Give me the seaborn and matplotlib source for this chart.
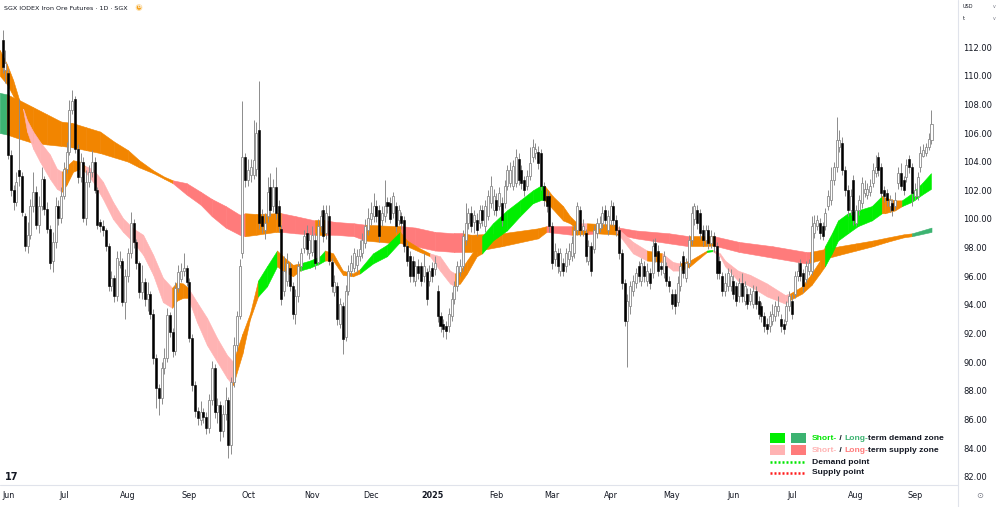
import numpy as np
import pandas as pd
import matplotlib
matplotlib.use("Agg")
import matplotlib.pyplot as plt
import seaborn as sns
from matplotlib.lines import Line2D
from matplotlib.patches import Rectangle

# %% daily candles
dates = pd.bdate_range("2024-05-30", "2025-09-09")

opens = [
    112.5, 110.4,
    110.2, 104.5, 102.0, 101.2, 103.4, 103.0, 100.2, 98.1, 98.9, 100.9, 101.9, 99.6, 100.9, 102.8, 100.7, 99.3, 97.1, 98.4, 100.9, 100.1,
    101.6, 103.5, 104.7, 107.6, 108.4, 104.9, 102.9, 104.0, 100.1, 102.6, 103.3, 104.0, 102.0, 99.8, 99.5, 99.2, 98.1, 95.3, 95.9, 94.6, 96.8, 97.1, 94.2,
    96.0, 97.6, 99.7, 98.4, 96.9, 94.9, 95.6, 94.4, 94.8, 93.4, 90.3, 88.2, 87.5, 89.6, 90.3, 93.3, 92.1, 90.8, 95.2, 95.8, 96.4, 96.6,
    95.6, 91.7, 88.4, 86.6, 86.0, 86.5, 86.2, 85.4, 87.4, 89.6, 86.5, 87.0, 85.2, 86.4, 87.4, 84.2, 88.6, 91.2, 93.2, 97.6, 104.3,
    102.7, 103.1, 103.1, 103.5, 106.2, 100.2, 99.2, 100.2, 102.2, 100.9, 102.2, 100.9, 99.3, 95.0, 95.7, 96.6, 95.3, 93.4, 94.6, 96.7, 98.0, 99.0, 97.6,
    97.7, 98.5, 97.0, 99.5, 100.6, 99.0, 100.2, 97.0, 94.9, 95.3, 92.7, 93.9, 91.8, 95.0, 96.4, 96.6, 96.8, 97.4, 97.6, 98.3, 99.2,
    100.0, 100.2, 100.9, 100.6, 99.9, 100.2, 101.2, 101.1, 100.4, 100.9, 99.9, 100.2, 99.9, 98.1, 97.4, 97.1, 95.7, 96.7, 96.7, 96.0, 96.3, 95.7,
    96.6, 96.5, 95.0, 93.2, 92.7, 92.5, 92.5, 93.2, 94.4, 95.3, 96.3, 96.7, 98.5, 99.7, 100.4, 99.8, 99.9, 99.7, 100.6, 99.5, 100.2, 101.1, 100.6,
    101.3, 100.9, 101.1, 101.1, 102.3, 102.5, 102.3, 102.5, 104.2, 103.4, 102.7, 102.3, 103.0, 104.3, 104.6, 104.7, 104.6, 102.3, 101.6, 101.6,
    99.5, 97.2, 97.6, 96.4, 96.9, 96.7, 97.2, 97.4, 97.6, 99.2, 100.6, 99.2, 99.0, 97.1, 98.1, 97.9, 99.0, 99.4, 99.7, 100.6, 99.2,
    99.9, 100.9, 99.9, 99.2, 97.6, 95.5, 92.9, 93.9, 95.0, 95.5, 96.7, 95.7, 96.7, 95.7, 96.2, 96.2, 98.3, 97.8, 96.7, 96.2, 96.7, 95.7,
    94.8, 94.8, 94.2, 95.3, 97.4, 95.9, 96.9, 98.5, 100.0, 100.6, 100.4, 99.2, 98.5, 99.2, 98.3, 98.8, 98.1, 97.1, 96.0, 95.0, 95.3, 95.3,
    95.7, 95.3, 94.6, 95.5, 94.3, 94.8, 94.3, 94.1, 95.0, 94.3, 93.9, 93.2, 92.7, 92.5, 92.9, 93.2, 93.6, 93.0, 92.7, 92.9, 93.9,
    94.3, 94.8, 96.0, 96.9, 96.2, 95.8, 96.4, 96.4, 99.0, 99.5, 99.7, 99.5, 99.5, 100.9, 101.3, 102.7, 103.6, 105.0, 105.3, 103.4, 102.0, 100.6, 102.7,
    99.7, 100.6, 101.1, 101.8, 101.7, 101.9, 102.5, 103.2, 104.3, 103.6, 102.0, 101.8, 100.9, 101.1, 100.9, 102.5, 103.2, 102.7, 102.9, 104.2, 103.6,
    101.6, 101.6, 103.6, 104.4, 104.6, 105.0, 105.5,
]
highs = [
    113.2, 111.8,
    110.5, 104.8, 102.4, 103.3, 108.4, 103.3, 100.4, 99.8, 101.4, 103.3, 102.3, 101.6, 103.6, 103.0, 101.2, 99.6, 99.1, 101.5, 101.3, 102.2,
    104.0, 105.4, 108.3, 109.0, 108.6, 105.2, 104.6, 104.3, 103.4, 103.8, 104.8, 104.3, 102.2, 100.0, 99.9, 99.4, 98.3, 96.4, 96.1, 97.8, 97.8, 97.3, 96.5,
    98.0, 100.5, 100.0, 98.6, 97.1, 96.8, 95.9, 95.6, 95.0, 93.7, 90.6, 88.5, 90.0, 91.0, 93.8, 93.5, 92.4, 95.6, 96.8, 96.9, 97.6, 96.8,
    95.9, 92.0, 88.7, 86.9, 87.3, 86.8, 86.5, 87.8, 90.1, 89.9, 87.5, 87.3, 87.0, 88.3, 87.6, 89.0, 91.8, 93.6, 97.2, 108.2, 104.6,
    104.2, 104.2, 106.9, 106.8, 109.6, 100.7, 100.4, 102.9, 103.2, 102.8, 103.6, 101.3, 99.6, 97.4, 97.6, 97.0, 95.6, 95.1, 97.1, 98.0, 99.2, 99.6, 99.0,
    99.5, 99.0, 100.0, 100.6, 101.0, 101.0, 101.0, 97.3, 96.1, 95.6, 94.5, 94.2, 95.4, 96.8, 97.5, 98.0, 97.9, 98.5, 99.0, 100.0, 100.8,
    101.2, 101.8, 101.3, 101.0, 100.9, 102.7, 101.5, 101.5, 101.9, 101.2, 101.0, 100.5, 100.2, 98.4, 97.8, 97.4, 97.1, 97.2, 97.0, 97.6, 96.6, 96.8,
    97.0, 97.4, 95.4, 93.5, 93.0, 92.9, 93.8, 94.9, 95.7, 97.1, 97.2, 99.2, 101.1, 100.8, 100.9, 100.6, 100.4, 101.0, 101.0, 101.3, 102.0, 103.0, 102.1,
    101.8, 102.2, 101.5, 102.7, 103.8, 104.0, 104.1, 104.9, 104.6, 103.8, 103.0, 103.4, 105.0, 105.6, 105.3, 105.1, 104.9, 102.6, 102.0, 101.9,
    99.8, 98.3, 98.0, 98.0, 97.3, 98.0, 98.3, 98.8, 99.6, 101.2, 100.9, 100.0, 99.3, 98.5, 98.4, 99.6, 100.1, 100.2, 100.9, 101.0, 100.6,
    101.3, 101.2, 100.3, 99.5, 97.9, 95.8, 94.8, 95.7, 96.1, 96.6, 97.1, 97.3, 97.1, 96.9, 96.6, 98.6, 98.7, 98.2, 97.1, 97.8, 97.0, 96.0,
    95.1, 95.1, 96.0, 97.1, 97.8, 97.3, 98.9, 100.9, 101.1, 101.0, 100.7, 99.6, 99.6, 99.6, 99.2, 99.1, 98.4, 97.4, 96.3, 96.2, 96.6, 96.5,
    96.1, 95.6, 95.9, 96.2, 95.7, 95.2, 95.2, 95.4, 95.3, 94.6, 94.2, 93.5, 93.1, 93.6, 94.1, 94.3, 94.6, 93.4, 93.0, 94.3, 95.0,
    94.8, 96.4, 97.0, 97.2, 96.5, 97.1, 97.2, 100.2, 100.3, 100.3, 100.1, 99.8, 100.8, 102.0, 103.6, 104.0, 107.1, 106.2, 105.7, 103.7, 102.4, 102.1, 103.1,
    101.0, 101.7, 102.9, 102.7, 102.5, 102.8, 103.9, 104.5, 104.7, 103.9, 102.3, 102.1, 101.7, 101.4, 101.9, 103.6, 103.9, 103.0, 104.2, 104.5, 103.9,
    102.5, 103.3, 105.1, 105.2, 105.3, 106.0, 107.6,
]
lows = [
    110.2, 109.5,
    104.2, 101.6, 100.6, 100.9, 102.3, 100.2, 97.8, 97.6, 98.6, 100.5, 99.3, 99.0, 100.6, 100.3, 99.0, 96.5, 96.3, 98.0, 99.6, 99.7,
    101.4, 103.2, 104.5, 107.3, 104.6, 102.5, 102.6, 99.8, 99.6, 102.2, 102.9, 101.8, 99.3, 99.1, 98.8, 97.8, 95.0, 95.0, 94.2, 94.3, 96.6, 93.9, 93.0,
    95.6, 97.3, 98.0, 96.5, 94.5, 94.4, 93.9, 93.6, 93.0, 89.9, 86.8, 86.3, 87.1, 89.2, 90.0, 91.8, 90.4, 90.5, 94.9, 95.6, 96.0, 95.3,
    91.4, 88.0, 86.2, 85.6, 85.6, 85.8, 85.0, 85.1, 87.0, 86.1, 85.8, 84.5, 84.8, 86.0, 83.3, 83.6, 88.3, 90.8, 93.0, 97.3, 102.2,
    102.3, 102.6, 102.8, 103.0, 99.3, 99.0, 98.6, 99.8, 100.2, 100.5, 100.0, 99.1, 94.0, 94.6, 95.3, 95.0, 93.0, 92.7, 94.2, 96.4, 97.6, 97.5, 97.2,
    97.4, 96.5, 96.8, 99.1, 98.4, 98.6, 96.8, 94.9, 94.6, 92.6, 92.4, 90.6, 91.5, 94.7, 96.0, 96.3, 96.3, 97.1, 97.3, 98.0, 98.9,
    99.6, 99.8, 99.8, 98.4, 99.5, 99.8, 100.4, 99.7, 100.1, 99.1, 99.6, 99.3, 97.7, 96.7, 95.6, 95.6, 95.3, 95.8, 95.3, 95.6, 94.0, 95.3,
    95.6, 96.1, 92.8, 92.1, 91.8, 91.6, 92.1, 92.9, 94.1, 95.0, 96.0, 96.4, 98.2, 99.3, 99.1, 99.0, 98.8, 99.4, 99.5, 99.1, 99.9, 100.8, 100.3,
    100.2, 100.6, 99.5, 100.8, 102.0, 102.2, 102.0, 102.2, 102.4, 102.1, 101.6, 102.0, 102.7, 104.0, 104.2, 103.5, 102.0, 100.9, 100.5, 99.1,
    96.5, 96.7, 96.2, 96.0, 96.0, 96.3, 96.8, 97.1, 97.3, 98.9, 98.8, 98.8, 97.0, 96.8, 96.0, 97.6, 98.7, 99.1, 99.4, 99.5, 98.9,
    99.6, 99.5, 98.8, 97.2, 95.1, 92.5, 89.7, 93.4, 94.6, 95.2, 95.6, 95.3, 95.6, 95.3, 95.1, 95.9, 97.0, 96.0, 96.1, 95.9, 95.3, 94.9,
    93.7, 93.4, 93.9, 95.0, 95.9, 95.6, 96.6, 98.2, 99.6, 99.3, 98.6, 98.1, 98.2, 97.9, 98.0, 97.7, 95.8, 95.8, 94.6, 94.6, 95.0, 95.0,
    94.4, 93.9, 94.2, 94.2, 94.0, 93.7, 94.0, 93.8, 93.7, 93.0, 92.8, 92.1, 92.0, 92.1, 92.6, 92.9, 93.2, 92.1, 92.0, 92.6, 93.6,
    93.0, 94.5, 95.7, 95.7, 94.9, 95.5, 96.1, 96.1, 98.7, 99.2, 98.6, 98.5, 99.2, 100.6, 101.0, 102.4, 103.3, 104.7, 103.1, 101.6, 100.2, 100.3, 99.6,
    99.5, 100.3, 100.8, 101.5, 101.4, 101.6, 102.2, 102.9, 103.0, 101.5, 101.2, 100.9, 100.5, 100.2, 100.6, 102.1, 102.0, 101.7, 102.6, 103.2, 100.9,
    101.3, 101.3, 103.3, 104.3, 104.4, 104.8, 105.2,
]
closes = [
    110.6, 110.9,
    104.5, 102.0, 101.2, 102.6, 103.0, 100.5, 98.1, 98.9, 100.9, 101.9, 99.6, 100.9, 102.8, 100.7, 99.3, 96.9, 98.4, 100.9, 100.1, 101.6,
    103.5, 104.7, 107.6, 108.2, 104.9, 102.9, 104.0, 100.1, 102.6, 103.3, 104.0, 102.0, 99.6, 99.5, 99.2, 98.1, 95.3, 95.9, 94.6, 97.3, 97.1, 94.2, 96.0,
    97.6, 99.7, 98.4, 96.9, 94.9, 95.6, 94.4, 94.8, 93.4, 90.3, 88.2, 87.5, 89.6, 90.3, 93.3, 92.1, 90.8, 95.2, 96.3, 96.4, 96.6, 95.6,
    91.7, 88.4, 86.6, 86.1, 86.5, 86.2, 85.4, 87.4, 89.6, 86.5, 87.0, 85.2, 86.4, 87.4, 84.2, 88.6, 91.2, 93.2, 96.7, 104.3, 102.7,
    103.4, 103.6, 104.1, 106.0, 99.7, 99.5, 99.7, 101.9, 100.6, 102.2, 100.4, 99.5, 94.4, 96.4, 96.9, 95.3, 93.4, 94.6, 96.7, 97.6, 98.8, 97.9, 98.5,
    98.9, 96.9, 99.5, 100.2, 98.8, 100.4, 97.1, 95.3, 95.6, 93.0, 94.1, 91.6, 95.0, 96.4, 96.9, 97.6, 97.4, 97.9, 98.5, 99.5, 100.1,
    100.4, 100.9, 100.2, 98.8, 100.4, 100.9, 100.9, 100.0, 101.6, 99.5, 100.6, 99.7, 98.1, 97.1, 96.0, 96.0, 96.7, 96.2, 95.7, 96.7, 94.4, 96.4,
    96.0, 96.9, 93.2, 92.5, 92.3, 92.2, 93.4, 94.4, 95.3, 96.7, 96.7, 98.8, 99.7, 100.4, 99.5, 100.3, 99.2, 100.6, 99.9, 100.9, 101.6, 102.3, 101.6,
    100.6, 101.8, 99.9, 102.3, 103.4, 103.4, 103.7, 104.3, 102.7, 102.5, 102.0, 103.0, 103.9, 105.0, 104.9, 103.9, 102.3, 101.3, 100.9, 99.5,
    96.9, 97.8, 96.7, 97.6, 96.4, 97.6, 97.8, 98.3, 99.2, 100.9, 99.2, 99.5, 97.4, 98.1, 96.4, 99.2, 99.7, 99.7, 100.4, 99.9, 100.2,
    100.9, 99.9, 99.2, 97.6, 95.5, 92.9, 94.3, 95.3, 95.7, 96.2, 96.0, 96.9, 96.0, 96.4, 95.5, 98.1, 97.4, 96.4, 96.5, 97.4, 95.7, 95.3,
    94.1, 93.9, 95.5, 96.7, 96.2, 96.9, 98.5, 100.4, 100.9, 99.7, 99.0, 98.5, 99.2, 98.3, 98.8, 98.1, 96.2, 96.2, 95.0, 95.5, 96.2, 96.0,
    94.8, 94.3, 95.5, 94.6, 95.3, 94.1, 94.8, 95.0, 94.1, 93.4, 93.2, 92.5, 92.3, 93.2, 93.4, 93.9, 93.9, 92.5, 92.3, 93.9, 94.6,
    93.4, 96.0, 96.4, 96.0, 95.3, 96.7, 96.9, 99.5, 99.7, 99.9, 99.0, 98.8, 100.4, 101.6, 102.7, 103.6, 105.5, 105.5, 103.4, 102.0, 100.6, 101.6, 99.9,
    100.6, 101.3, 102.5, 102.1, 102.1, 102.3, 103.4, 103.6, 103.4, 101.8, 101.6, 101.3, 101.3, 100.6, 101.3, 103.2, 102.3, 102.0, 103.8, 103.6, 101.8,
    102.0, 102.9, 104.6, 104.8, 105.0, 105.6, 106.6,
]

month_labels = ["Jun", "Jul", "Aug", "Sep", "Oct", "Nov", "Dec", "2025",
                "Feb", "Mar", "Apr", "May", "Jun", "Jul", "Aug", "Sep"]
price_ticks = [82, 84, 86, 88, 90, 92, 94, 96, 98, 100, 102, 104, 106, 108, 110, 112]

# long-term zone edges (bar number, upper, lower, zone of the stretch that follows)
lt_bar = [-1, 1.5, 6, 11, 16, 21, 25, 30, 35, 40, 45, 49, 54, 58, 61, 66, 71, 75, 80, 85,
          87, 91, 98, 100, 105, 112, 116, 119, 126, 130, 141, 143, 148, 155, 162, 165, 168, 179, 192, 195,
          204, 210, 213, 221, 227, 239, 246, 251, 255, 264, 276, 288, 289.5, 300, 306, 312, 317, 323, 326, 333]
lt_top = [108.8, 108.7, 108.3, 107.8, 107.3, 106.8, 106.7, 106.4, 106.1, 105.4, 104.8, 104.1, 103.4, 102.95, 102.7, 102.5, 101.9, 101.4, 100.9, 100.3,
          100.4, 100.35, 100.4, 100.4, 100.2, 99.9, 99.9, 99.8, 99.7, 99.6, 99.5, 99.5, 99.4, 99.1, 99.0, 99.0, 98.9, 99.0, 99.35, 99.5,
          99.5, 99.5, 99.5, 99.4, 99.2, 99.0, 98.8, 98.8, 98.8, 98.4, 98.1, 97.7, 97.7, 98.1, 98.3, 98.5, 98.7, 98.93, 99.0, 99.4]
lt_bot = [106.0, 105.9, 105.6, 105.3, 105.2, 105.1, 105.0, 104.8, 104.6, 104.3, 104.0, 103.6, 103.2, 102.8, 102.5, 101.7, 101.0, 100.2, 99.4, 98.9,
          98.8, 98.9, 99.1, 99.1, 99.0, 98.9, 98.9, 98.9, 98.8, 98.5, 98.3, 98.3, 98.1, 97.8, 97.7, 97.7, 97.7, 98.1, 98.65, 99.1,
          98.9, 98.95, 99.0, 98.9, 98.65, 98.3, 98.1, 98.1, 98.15, 97.7, 97.3, 96.9, 96.95, 97.5, 97.8, 98.1, 98.4, 98.72, 98.8, 99.1]
lt_zone = list("g" + "o" * 13 + "r" * 6 + "ooo" + "rr" + "o" + "rrr" + "oo" + "rrrr" + "oooo"
               + "r" + "o" + "r" + "o" + "rrr" + "oo" + "rrrr" + "o" * 6 + "gg")

# short-term zone edges
st_bar = [-1, 1.6, 3.8, 6.0, 7.4, 8.8, 11.0, 13.4, 17.0, 19.5, 21.3, 23.0, 25.3, 27.8, 29.6, 32.4, 36.0, 39.6, 43.2, 46.8,
          50.4, 54.0, 57.5, 60.8, 62.5, 64.7, 66.5, 69.7, 73.3, 76.9, 80.5, 82.6, 86.0, 88.7, 91.6, 94.8, 98.4, 100.5, 104.1, 106.6,
          110.2, 113.8, 115.6, 118.5, 122.0, 125.6, 128.1, 132.8, 137.8, 142.5, 145.0, 149.6, 153.2, 156.8, 160.4, 162.2, 164.0, 166.5, 170.0, 171.9,
          175.8, 180.8, 185.5, 190.1, 192.7, 194.4, 197.2, 200.9, 203.4, 206.0, 209.5, 220.0, 221.3, 226.0, 231.0, 236.5, 240.3, 242.8, 246.4, 252.5,
          254.6, 257.2, 259.0, 263.6, 268.0, 274.0, 280.5, 282.3, 286.6, 290.0, 293.0, 294.8, 297.3, 299.5, 303.0, 306.6, 311.6, 315.2, 316.3, 319.9,
          322.4, 326.0, 329.6, 332.8]
st_top = [111.8, 110.8, 109.7, 108.3, 107.7, 106.9, 106.1, 105.4, 104.5, 103.5, 103.3, 103.7, 104.1, 104.0, 103.7, 103.5, 102.6, 101.2, 100.05, 99.35,
          98.9, 97.5, 95.9, 95.2, 95.6, 95.5, 95.2, 94.2, 93.1, 91.7, 90.5, 90.05, 92.0, 93.4, 95.7, 96.7, 97.8, 97.4, 96.8, 96.9,
          97.1, 97.4, 97.8, 97.6, 96.4, 96.2, 96.5, 97.6, 98.2, 99.1, 98.5, 97.95, 97.6, 97.4, 96.4, 96.2, 96.4, 97.1, 98.1, 98.8,
          99.7, 100.6, 101.3, 102.0, 102.3, 102.3, 101.6, 100.9, 100.2, 99.7, 99.7, 99.6, 99.2, 98.4, 97.8, 97.6, 97.0, 96.9, 97.1, 97.8,
          97.85, 97.6, 97.1, 96.4, 96.1, 95.5, 94.7, 94.8, 95.3, 96.2, 97.1, 98.1, 99.0, 99.9, 100.4, 100.6, 100.9, 101.6, 101.5, 101.3,
          101.3, 101.8, 102.5, 103.2]
st_bot = [110.0, 109.4, 108.6, 108.0, 107.6, 106.1, 104.9, 104.0, 102.8, 102.1, 101.9, 102.4, 103.3, 103.5, 103.3, 102.6, 101.4, 100.0, 99.1, 98.4,
          97.5, 96.1, 94.2, 93.8, 94.3, 94.5, 94.5, 92.8, 91.2, 90.05, 88.9, 88.4, 90.6, 93.0, 94.6, 95.3, 96.7, 96.4, 96.0, 96.4,
          96.6, 96.9, 97.1, 97.1, 96.1, 96.0, 96.2, 96.9, 97.4, 98.4, 98.1, 97.7, 97.4, 96.4, 95.5, 95.3, 95.5, 96.2, 97.4, 97.6,
          98.5, 99.2, 100.2, 101.1, 101.3, 101.3, 100.7, 99.9, 99.7, 99.3, 99.2, 99.1, 98.8, 97.6, 97.1, 97.0, 96.4, 96.4, 96.7, 97.7,
          97.75, 97.4, 96.7, 95.7, 95.3, 94.6, 94.1, 94.35, 94.8, 95.4, 96.2, 96.7, 97.6, 98.5, 99.0, 99.5, 99.9, 100.4, 100.4, 100.6,
          100.9, 101.2, 101.7, 102.1]
st_zone = list("oooossssss" "oooossssss" "sssooossss" "soooddoood" "ddoooodddo"
               "oosssooood" "dddddoooos" "osssossood" "sssssssooo" "oddddddooo" "dddd")

zone_colors = {"o": "#f28500", "d": "#00ee00", "s": "#ffb3b3", "g": "#3cb371", "r": "#ff7b7b"}

# %% figure
sns.set_theme(style="white")
plt.rcParams["font.family"] = ["DejaVu Sans"]

W, H = 1000, 507
fig = plt.figure(figsize=(W / 100, H / 100), dpi=100, facecolor="white")
ax = fig.add_axes([0, (H - 485) / H, 958 / W, 485 / H])
ax.set_facecolor("white")


def px(x, y):
    return x / W, 1 - y / H


def draw_band(bar, top, bot, zone, z):
    for k in range(len(bar) - 1):
        col = zone_colors[zone[k]]
        ax.fill_between(bar[k:k + 2], bot[k:k + 2], top[k:k + 2], color=col,
                        edgecolor=col, linewidth=0.4, zorder=z)


draw_band(lt_bar, lt_top, lt_bot, lt_zone, 1)
draw_band(st_bar, st_top, st_bot, st_zone, 2)

o, h, l, c = (np.array(v) for v in (opens, highs, lows, closes))
x = np.arange(len(dates))
up = c >= o
ax.vlines(x, l, h, color="#8c8c8c", linewidth=0.7, zorder=3)
ax.bar(x[up], np.maximum(c[up] - o[up], 0.05), bottom=o[up], width=0.72,
       color="white", edgecolor="#8c8c8c", linewidth=0.6, zorder=4)
ax.bar(x[~up], o[~up] - c[~up], bottom=c[~up], width=0.72,
       color="black", edgecolor="black", linewidth=0.4, zorder=4)

ax.set_xlim(-0.9, 342.5)
ax.set_ylim(81.44, 115.28)

month = np.asarray(dates.month)
month_pos = np.flatnonzero(np.r_[True, month[1:] != month[:-1]])[1:]
ax.set_xticks(month_pos)
ax.set_xticklabels(month_labels)
for lab in ax.get_xticklabels():
    if lab.get_text() == "2025":
        lab.set_fontweight("bold")
ax.yaxis.tick_right()
ax.set_yticks(price_ticks)
ax.set_yticklabels([f"{v:.2f}" for v in price_ticks])
ax.tick_params(axis="x", length=0, pad=4.5, labelsize=5.8, colors="#131722")
ax.tick_params(axis="y", length=0, pad=3.8, labelsize=6, colors="#131722")
ax.grid(False)
sns.despine(ax=ax, left=True, bottom=True, right=True, top=True)

# separators of the price and time scales
fig.add_artist(Line2D([958 / W, 958 / W], [0, 1], color="#e0e3eb", linewidth=0.8))
fig.add_artist(Line2D([0, 958 / W], [1 - 485 / H] * 2, color="#e0e3eb", linewidth=0.8))

# header texts
fig.text(*px(4, 8), "SGX IODEX Iron Ore Futures · 1D · SGX", fontsize=4.6,
         color="#131722", va="center", ha="left")
fig.text(*px(139, 7.5), "D", fontsize=3.0, color="white", ha="center", va="center",
         fontweight="bold",
         bbox=dict(boxstyle="circle,pad=0.2", fc="#f6a21e", ec="#fde3b5", lw=0.8))
fig.text(*px(963, 7), "USD", fontsize=3.6, color="#131722", va="center")
fig.text(*px(963, 19), "t", fontsize=3.6, color="#131722", va="center")
for yy in (7, 19):
    fig.text(*px(994, yy), "v", fontsize=3.4, color="#787b86", va="center", ha="center")
fig.text(*px(980, 496), "⊙", fontsize=6, color="#787b86", va="center", ha="center")
fig.text(*px(5, 477), "17", fontsize=7, fontweight="bold", color="#131722",
         va="center", ha="left")

# legend
renderer = fig.canvas.get_renderer()


def rich_text(xs, ys, parts):
    for s, col in parts:
        t = fig.text(*px(xs, ys), s, color=col, fontsize=6.1, fontweight="bold",
                     family=["Liberation Sans", "DejaVu Sans"], va="center", ha="left")
        xs += t.get_window_extent(renderer).width


for (x0, y0, col) in [(770, 433, zone_colors["d"]), (791, 433, zone_colors["g"]),
                      (770, 445, zone_colors["s"]), (791, 445, zone_colors["r"])]:
    fig.add_artist(Rectangle(px(x0, y0 + 10), 15 / W, 10 / H, transform=fig.transFigure,
                             facecolor=col, edgecolor="none"))

rich_text(812, 438, [("Short-", "#00e600"), (" / ", "#131722"), ("Long-", "#3cb371"),
                     ("term demand zone", "#131722")])
rich_text(812, 450, [("Short-", "#ffb3b3"), (" / ", "#131722"), ("Long-", "#ff7b7b"),
                     ("term supply zone", "#131722")])
fig.add_artist(Line2D([770 / W, 806 / W], [1 - 462 / H] * 2, color="#00e600",
                      linewidth=1.8, linestyle=(0, (0.8, 0.8))))
fig.add_artist(Line2D([770 / W, 806 / W], [1 - 473 / H] * 2, color="#ff1a1a",
                      linewidth=1.8, linestyle=(0, (0.8, 0.8))))
rich_text(812, 462, [("Demand point", "#131722")])
rich_text(812, 473, [("Supply point", "#131722")])

fig.savefig("out.png", dpi=100, facecolor="white")
